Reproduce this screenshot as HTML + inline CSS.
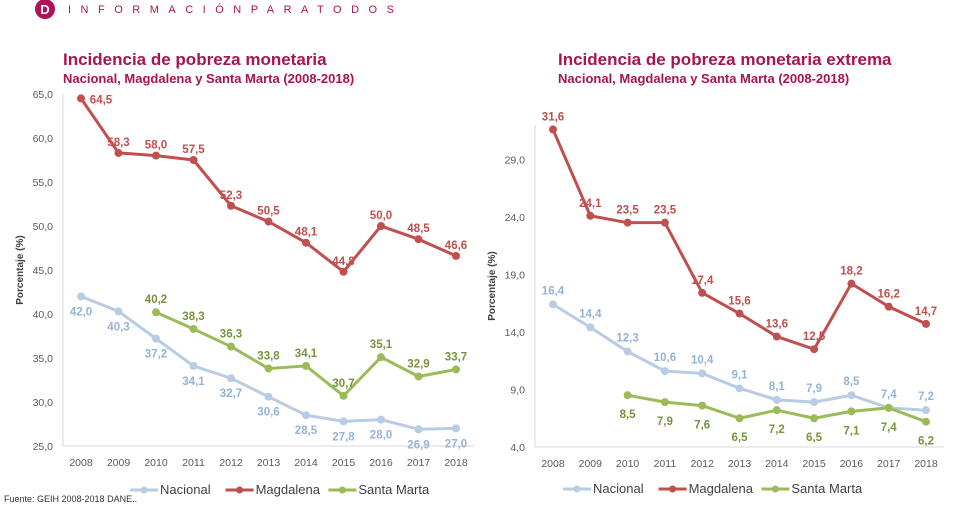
<!DOCTYPE html>
<html><head><meta charset="utf-8">
<style>
body{margin:0;width:956px;height:506px;background:#fff;overflow:hidden;font-family:"Liberation Sans",sans-serif}
</style></head>
<body>
<svg id="s" width="956" height="506" xmlns="http://www.w3.org/2000/svg" font-family="Liberation Sans, sans-serif">
<g>
<circle cx="45" cy="9" r="10" fill="#b0125a"/>
<text x="45" y="14" font-size="13" font-weight="bold" fill="#fff" text-anchor="middle">D</text>
<text x="68" y="13" font-size="11" fill="#b0125a" letter-spacing="9.5">INFORMACIÓNPARATODOS</text>
</g>
<text x="63" y="65" font-size="17" font-weight="bold" fill="#a8144f">Incidencia de pobreza monetaria</text>
<text x="63" y="83" font-size="13" font-weight="bold" fill="#a8144f">Nacional, Magdalena y Santa Marta (2008-2018)</text>
<text x="558" y="65" font-size="17" font-weight="bold" fill="#a8144f">Incidencia de pobreza monetaria extrema</text>
<text x="558" y="83" font-size="13" font-weight="bold" fill="#a8144f">Nacional, Magdalena y Santa Marta (2008-2018)</text>
<text x="4" y="502" font-size="9" fill="#333">Fuente: GEIH 2008-2018 DANE..</text>
</svg>
<script>
const years=["2008","2009","2010","2011","2012","2013","2014","2015","2016","2017","2018"];
const leftNacional=[42.0,40.3,37.2,34.1,32.7,30.6,28.5,27.8,28.0,26.9,27.0];
const leftMagdalena=[64.5,58.3,58.0,57.5,52.3,50.5,48.1,44.8,50.0,48.5,46.6];
const leftSantaMarta=[null,null,40.2,38.3,36.3,33.8,34.1,30.7,35.1,32.9,33.7];
const leftTicks=[25,30,35,40,45,50,55,60,65];
const rightNacional=[16.4,14.4,12.3,10.6,10.4,9.1,8.1,7.9,8.5,7.4,7.2];
const rightMagdalena=[31.6,24.1,23.5,23.5,17.4,15.6,13.6,12.5,18.2,16.2,14.7];
const rightSantaMarta=[null,null,8.5,7.9,7.6,6.5,7.2,6.5,7.1,7.4,6.2];
const rightTicks=[4,9,14,19,24,29];

const NS="http://www.w3.org/2000/svg";
const svg=document.getElementById('s');
function el(tag,attrs,parent){const e=document.createElementNS(NS,tag);for(const k in attrs)e.setAttribute(k,attrs[k]);(parent||svg).appendChild(e);return e;}
function fmt(v){return v.toFixed(1).replace('.',',');}
const C={nac:'#b8cce4',mag:'#c0504d',sm:'#9bbb59'};
const T={nac:'#95b3d7',mag:'#c0504d',sm:'#77933c'};

function chart(cfg){
  const g=el('g',{});
  
  
  const yS=v=>cfg.y0+(v-cfg.vmin)*(cfg.y1-cfg.y0)/(cfg.vmax-cfg.vmin);
  const xS=i=>cfg.x0+i*(cfg.x1-cfg.x0)/(years.length-1);
  const ax=el('line',{x1:cfg.ax,y1:cfg.top,x2:cfg.ax,y2:cfg.y0,stroke:'#d9d9d9','stroke-width':1},g);
  
  const bx=el('line',{x1:cfg.ax,y1:cfg.y0,x2:cfg.x1+18,y2:cfg.y0,stroke:'#d9d9d9','stroke-width':1},g);
  
  cfg.ticks.forEach(t=>{const tx=el('text',{x:cfg.ax-10,y:yS(t)+4,'font-size':10.5,fill:'#595959','text-anchor':'end'},g);tx.textContent=fmt(t);
    });
  years.forEach((y,i)=>{const tx=el('text',{x:xS(i),y:cfg.y0+20,'font-size':10.5,fill:'#595959','text-anchor':'middle'},g);tx.textContent=y;
    });
  const yt=el('text',{transform:`translate(${cfg.ax-40},${(cfg.top+cfg.y0)/2}) rotate(-90)`,'font-size':10,'font-weight':'bold',fill:'#404040','text-anchor':'middle'},g);
  yt.textContent='Porcentaje (%)';
  cfg.series.forEach(s=>{
    const pts=s.data.map((v,i)=>v==null?null:[xS(i),yS(v)]).filter(p=>p);
    const pl=el('polyline',{points:pts.map(p=>p.join(',')).join(' '),fill:'none',stroke:C[s.k],'stroke-width':3,'stroke-linejoin':'round'},g);
    
    s.data.forEach((v,i)=>{if(v==null)return;
      const c=el('circle',{cx:xS(i),cy:yS(v),r:4,fill:C[s.k]},g);
      
      const special=(i==0&&s.k=='mag'&&cfg.name=='left-chart');
      const t=el('text',{x:xS(i)+(special?20:0),y:yS(v)+(special?5:s.off),'font-size':11.5,'font-weight':'bold',fill:T[s.k],'text-anchor':'middle'},g);
      t.textContent=fmt(v);});
  });
  const items=[['nac','Nacional'],['mag','Magdalena'],['sm','Santa Marta']];
  let lx=cfg.legX;
  items.forEach(([k,n])=>{
    const lg=el('g',{},g);
    
    
    el('line',{x1:lx,y1:cfg.legY-4,x2:lx+28,y2:cfg.legY-4,stroke:C[k],'stroke-width':3},lg);
    el('circle',{cx:lx+14,cy:cfg.legY-4,r:3.5,fill:C[k]},lg);
    const t=el('text',{x:lx+30,y:cfg.legY,'font-size':13,fill:'#404040'},lg);t.textContent=n;
    lx+=30+n.length*7.2+8;
  });
}
chart({name:'left-chart',ax:63,top:94,x0:81,x1:456,y0:446,y1:94,vmin:25,vmax:65,ticks:leftTicks,legX:130,legY:494,
  series:[{k:'nac',name:'nacional',data:leftNacional,off:19},{k:'mag',name:'magdalena',data:leftMagdalena,off:-7},{k:'sm',name:'santa-marta',data:leftSantaMarta,off:-9}]});
chart({name:'right-chart',ax:535,top:125,x0:553,x1:926,y0:447,y1:159.4,vmin:4,vmax:29,ticks:rightTicks,legX:563,legY:493,
  series:[{k:'nac',name:'nacional',data:rightNacional,off:-10},{k:'mag',name:'magdalena',data:rightMagdalena,off:-9},{k:'sm',name:'santa-marta',data:rightSantaMarta,off:23}]});
</script>
</body></html>
